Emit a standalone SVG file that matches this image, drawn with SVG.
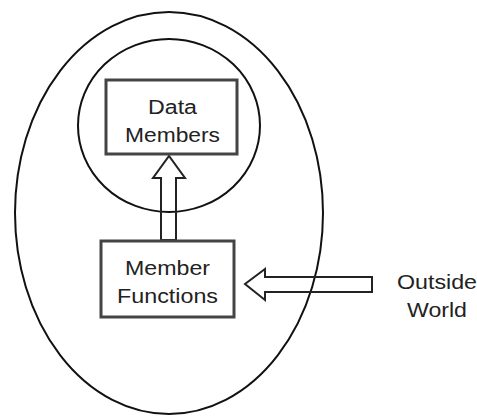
<svg xmlns="http://www.w3.org/2000/svg" width="477" height="417" viewBox="0 0 477 417">
<style>
.ring{fill:none;stroke:#111;stroke-width:2}
.box{fill:#fff;stroke:#444;stroke-width:3}
.arr{fill:none;stroke:#222;stroke-width:2;stroke-linejoin:miter}
.lbl{font-family:"Liberation Sans",Arial,sans-serif;font-size:20px;fill:#222;text-anchor:middle}
</style>
<rect width="477" height="417" fill="#fff"/>
<g id="object">
<ellipse class="ring" cx="169" cy="213" rx="154" ry="201"/>
</g>
<g id="data-circle">
<ellipse class="ring" cx="169" cy="125.5" rx="91" ry="86.5"/>
</g>
<g id="connectors">
<polygon class="arr" points="161,240 161,178 153,178 169,156 185,178 176,178 176,240"/>
<polygon class="arr" points="372,277 265,277 265,269 245,284 265,300 265,292 372,292"/>
</g>
<g id="data-members">
<rect class="box" x="106" y="80" width="131" height="74"/>
<text class="lbl" x="172.5" y="114" textLength="49" lengthAdjust="spacingAndGlyphs">Data</text>
<text class="lbl" x="172.5" y="142" textLength="95" lengthAdjust="spacingAndGlyphs">Members</text>
</g>
<g id="member-functions">
<rect class="box" x="101" y="241" width="133" height="76"/>
<text class="lbl" x="167.5" y="275" textLength="85" lengthAdjust="spacingAndGlyphs">Member</text>
<text class="lbl" x="167.5" y="303" textLength="101" lengthAdjust="spacingAndGlyphs">Functions</text>
</g>
<g id="outside-world">
<text class="lbl" x="437" y="289" textLength="80" lengthAdjust="spacingAndGlyphs">Outside</text>
<text class="lbl" x="437" y="317" textLength="60" lengthAdjust="spacingAndGlyphs">World</text>
</g>
</svg>
